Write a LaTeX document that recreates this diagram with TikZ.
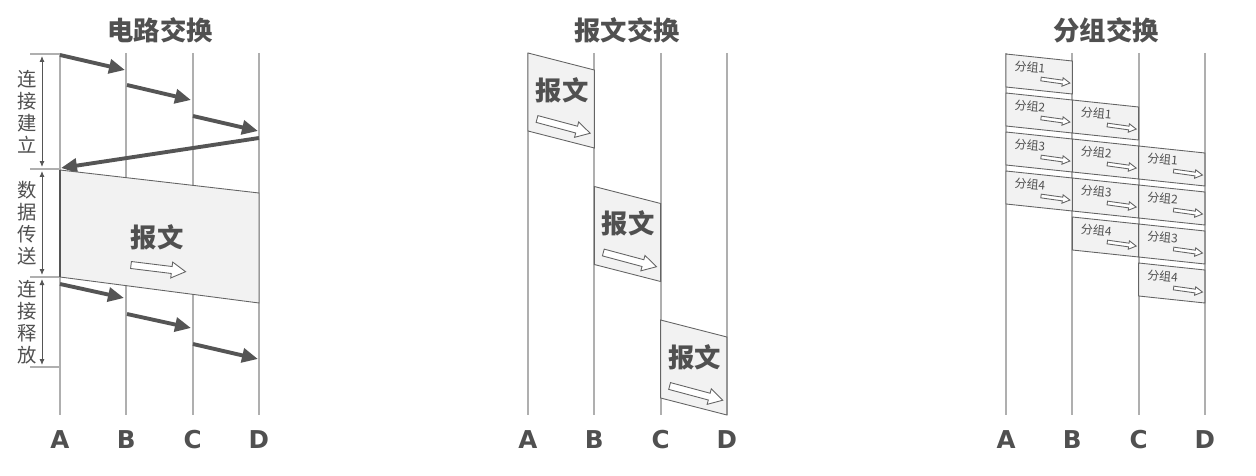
\documentclass[tikz,border=0pt]{standalone}
\usepackage{fontspec}
\newfontfamily\cjk{Noto Sans CJK SC}
\newfontfamily\lbl{DejaVu Sans}
\usetikzlibrary{positioning,calc,arrows.meta}
\definecolor{linegray}{RGB}{175,175,175}
\definecolor{arrowgray}{RGB}{85,85,85}
\definecolor{boxfill}{RGB}{242,242,242}
\definecolor{boxline}{RGB}{100,100,100}
\definecolor{textgray}{RGB}{80,80,80}

\begin{document}
\begin{tikzpicture}[
    x=0.02cm, y=-0.02cm,
    every node/.style={font=\cjk, text=textgray, inner sep=0pt},
    title/.style={font=\cjk\bfseries\fontsize{15}{15}\selectfont},
    station/.style={font=\lbl\bfseries\fontsize{14}{14}\selectfont},
    lifeline/.style={draw=linegray, line width=1.1pt},
    signal/.style={draw=arrowgray, line width=2.2pt, -{Triangle[length=3.2mm,width=2.8mm]}},
    phase/.style={draw=arrowgray, line width=0.5pt, {Latex[length=1.2mm,width=1mm]}-{Latex[length=1.2mm,width=1mm]}},
    tick/.style={draw=linegray, line width=0.6pt},
    msgbox/.style={draw=boxline, fill=boxfill, line width=0.5pt},
    phasetext/.style={font=\cjk\fontsize{11}{12.6}\selectfont, align=center, text=textgray},
    msgtext/.style={font=\cjk\bfseries\fontsize{15}{15}\selectfont},
    pkttext/.style={font=\cjk\fontsize{6.8}{6.8}\selectfont},
    hollow/.pic={\draw[draw=boxline, fill=white, line width=0.5pt] (0,-3.5) -- (41,-3.5) -- (41,-8) -- (55,0) -- (41,8) -- (41,3.5) -- (0,3.5) -- cycle;},
]
\useasboundingbox (0,0) rectangle (1256,476);

% Titles
\node[title] (ctitle) at (160,30) {电路交换};
\node[title] (mtitle) at (627,30) {报文交换};
\node[title] (ptitle) at (1106,30) {分组交换};

% Lifelines and station labels
\foreach \p/\xo in {c/60,m/528,p/1006} {
  \foreach \n [count=\k from 0] in {A,B,C,D} {
    \coordinate (\p\n top) at (\xo+66.3*\k,53);
    \coordinate (\p\n bot) at (\xo+66.3*\k,415);
    \draw[lifeline] (\p\n top) -- (\p\n bot);
    \node[station] (\p\n lbl) at (\xo+66.3*\k,440) {\n};
  }
}

% Circuit switching: phases on the left
\coordinate (ph0a) at (30,54);  \coordinate (ph0b) at (60,54);
\coordinate (ph1a) at (30,169); \coordinate (ph1b) at (60,169);
\coordinate (ph2a) at (30,277); \coordinate (ph2b) at (60,277);
\coordinate (ph3a) at (30,367); \coordinate (ph3b) at (60,367);
\foreach \i in {0,...,3} \draw[tick] (ph\i a) -- (ph\i b);
\draw[phase] (42,56) -- (42,167);
\draw[phase] (42,171) -- (42,275);
\draw[phase] (42,279) -- (42,365);
\node[phasetext] (setup) at (27,112) {连\\接\\建\\立};
\node[phasetext] (transfer) at (27,223) {数\\据\\传\\送};
\node[phasetext] (release) at (27,322) {连\\接\\释\\放};

% Circuit switching: connection setup
\coordinate (set1s) at (60,55);   \coordinate (set1e) at (125,70);
\coordinate (set2s) at (127,85);  \coordinate (set2e) at (191,100);
\coordinate (set3s) at (193,116); \coordinate (set3e) at (258,131);
\coordinate (set4s) at (259,138); \coordinate (set4e) at (61,168);
\foreach \i in {1,...,4} \draw[signal] (set\i s) -- (set\i e);

% Circuit switching: data transfer
\draw[msgbox] (60,170) -- (259,193) -- (259,303) -- (60,277) -- cycle;
\draw[arrowgray, line width=1.4pt] (60,170) -- (60,277);
\node[msgtext] (cmsg) at (157,237) {报文};
\pic[rotate=-7] at (131,265) {hollow};

% Circuit switching: connection release
\coordinate (rel1s) at (60,284);  \coordinate (rel1e) at (124,298);
\coordinate (rel2s) at (127,314); \coordinate (rel2e) at (191,328);
\coordinate (rel3s) at (193,344); \coordinate (rel3e) at (258,359);
\foreach \i in {1,...,3} \draw[signal] (rel\i s) -- (rel\i e);

% Message switching
\foreach \j in {0,1,2} {
  \pgfmathsetmacro\xl{528+66.3*\j}
  \pgfmathsetmacro\yt{53+133.5*\j}
  \draw[msgbox] (\xl,\yt) -- ++(66.3,17) -- ++(0,78) -- ++(-66.3,-17) -- cycle;
  \node[msgtext] (msg\j) at (\xl+34,\yt+37) {报文};
  \pic[rotate=-15] at (\xl+9,\yt+66) {hollow};
}

% Packet switching
\foreach \i in {1,...,4} {
  \foreach \j in {0,1,2} {
    \pgfmathsetmacro\xl{1006+66.3*\j}
    \pgfmathsetmacro\yt{54+39*(\i-1)+46*\j}
    \draw[msgbox] (\xl,\yt) -- ++(66.3,7) -- ++(0,33) -- ++(-66.3,-7) -- cycle;
    \node[pkttext, rotate=-5] (pkt\i\j) at (\xl+24,\yt+13) {分组\i};
    \pic[scale=0.53, rotate=-8] at (\xl+35,\yt+25) {hollow};
  }
}

\end{tikzpicture}
\end{document}
